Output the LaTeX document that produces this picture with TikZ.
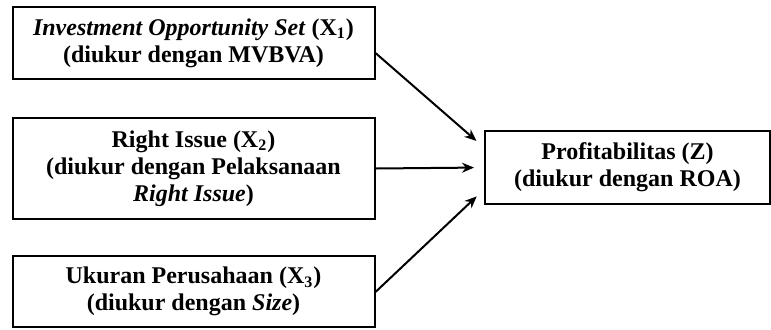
\documentclass[tikz,border=0pt]{standalone}
\usepackage{fontspec}
\setmainfont{Liberation Serif}
\usepackage{tikz}
\usetikzlibrary{positioning,arrows.meta}

\begin{document}
\begin{tikzpicture}[x=0.5pt,y=0.5pt,
    varbox/.style={draw,line width=1pt,rectangle,align=center,
        font=\bfseries\fontsize{12}{13.5}\selectfont,
        minimum width=181pt,inner sep=0pt},
    arr/.style={-{Stealth[length=6pt,width=5pt]},line width=1pt,shorten >=5pt}]
    \useasboundingbox (0,0) rectangle (771,329);

    % Independent variables
    \node[varbox,minimum height=36pt] (x1) at (193.5,286)
        {\textit{Investment Opportunity Set} (X\textsubscript{1})\\(diukur dengan MVBVA)};
    \node[varbox,minimum height=50.5pt] (x2) at (193.5,160.5)
        {Right Issue (X\textsubscript{2})\\(diukur dengan Pelaksanaan\\\textit{Right Issue})};
    \node[varbox,minimum height=35.5pt] (x3) at (193.5,37.5)
        {Ukuran Perusahaan (X\textsubscript{3})\\(diukur dengan \textit{Size})};

    % Dependent variable
    \node[varbox,minimum width=142.5pt,minimum height=36.5pt] (z) at (627.5,161.5)
        {Profitabilitas (Z)\\(diukur dengan ROA)};

    % Arrows
    \draw[arr] ([yshift=-5pt]x1.east) -- ([yshift=10pt]z.west);
    \draw[arr] (x2.east) -- (z.west);
    \draw[arr] ([yshift=-0.25pt]x3.east) -- ([yshift=-11pt]z.west);
\end{tikzpicture}
\end{document}
